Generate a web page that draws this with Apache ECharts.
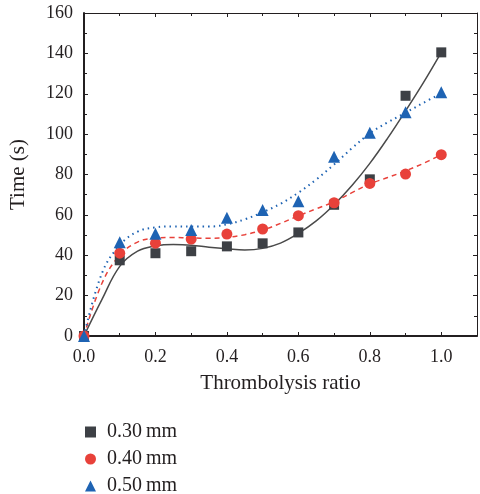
<!DOCTYPE html>
<html>
<head>
<meta charset="utf-8">
<script src="https://cdn.jsdelivr.net/npm/echarts@6/dist/echarts.min.js"></script>
<style>html,body{margin:0;padding:0;background:#fff}#c{width:480px;height:494px}</style>
</head>
<body>
<div id="c"></div>
<script>
var seriesNames = ['0.30\u2009mm', '0.40\u2009mm', '0.50\u2009mm'];
var xValues = [0, 0.1, 0.2, 0.3, 0.4, 0.5, 0.6, 0.7, 0.8, 0.9, 1.0];
var y030 = [0, 37.5, 41, 42, 44.4, 45.9, 51.3, 65, 77.6, 119, 140.5];
var y040 = [0, 41, 46, 48, 50.5, 53, 59.6, 66, 75.6, 80.2, 89.8];
var y050 = [0, 46.5, 50.7, 52.5, 58.6, 62.4, 66.7, 88.8, 100.7, 110.8, 120.7];

var fitX = [0, 0.05, 0.1, 0.15, 0.2, 0.25, 0.3, 0.35, 0.4, 0.45, 0.5, 0.55, 0.6, 0.65, 0.7, 0.75, 0.8, 0.85, 0.9, 0.95, 1.0];
var fit030 = [0, 18, 34.5, 42, 44.6, 45.3, 45, 44, 43.2, 42.6, 43.4, 46, 50.8, 57, 65, 74.5, 85.5, 98, 111.5, 125.5, 140.5];
var fit040 = [0, 26, 40, 46.5, 48.5, 48.8, 48.6, 48.4, 48.8, 50.2, 52.5, 55.8, 59.5, 63, 66.5, 71, 75.3, 78.5, 81.8, 85.5, 89.8];
var fit050 = [0, 31, 45, 51.7, 53.8, 54.3, 54.2, 54.2, 55.3, 57.8, 61.3, 65.5, 71, 77.5, 85, 93, 100.4, 105.8, 110.6, 115.5, 120.2];

var xTickLabels = ['0.0', '0.2', '0.4', '0.6', '0.8', '1.0'];

function pairs(xs, ys) { return xs.map(function (x, i) { return [x, ys[i]]; }); }

var colors = ['#3d4045', '#e8413a', '#1e63b3'];
var font = 'Liberation Serif';
var txt = '#231f20';

var chart = echarts.init(document.getElementById('c'), null, { renderer: 'canvas' });

var baseX = {
  type: 'value', min: 0, max: 1.1, interval: 0.2,
  splitLine: { show: false },
  minorTick: { show: true, splitNumber: 2, length: 3, lineStyle: { color: '#231f20', width: 1 } },
  axisTick: { show: true, inside: true, length: 4, lineStyle: { color: '#231f20', width: 1 } }
};
var baseY = {
  type: 'value', min: 0, max: 160, interval: 20,
  splitLine: { show: false },
  minorTick: { show: true, splitNumber: 2, length: 3, lineStyle: { color: '#231f20', width: 1 } },
  axisTick: { show: true, inside: true, length: 4, lineStyle: { color: '#231f20', width: 1 } }
};

var option = {
  animation: false,
  backgroundColor: '#fff',
  grid: { left: 83, top: 13, width: 398, height: 323, containLabel: false },
  legend: {
    orient: 'vertical', left: 85, top: 422, itemGap: 7, itemWidth: 11, itemHeight: 11,
    padding: 0, height: 80,
    data: [
      { name: seriesNames[0], icon: 'rect' },
      { name: seriesNames[1], icon: 'circle' },
      { name: seriesNames[2], icon: 'triangle' }
    ],
    textStyle: { fontFamily: font, fontSize: 20, color: txt, padding: [0, 0, 0, 6] }
  },
  xAxis: [
    Object.assign({}, baseX, {
      position: 'bottom',
      name: 'Thrombolysis ratio', nameLocation: 'middle', nameGap: 37,
      nameTextStyle: { fontFamily: font, fontSize: 21, color: txt },
      axisLine: { show: true, onZero: false, lineStyle: { color: '#231f20', width: 2 } },
      axisLabel: {
        fontFamily: font, fontSize: 18, color: txt, margin: 12,
        formatter: function (v) {
          var idx = Math.round(v / 0.2);
          if (v > 1.05 || Math.abs(v - idx * 0.2) > 1e-6) return '';
          return xTickLabels[idx];
        }
      }
    }),
    Object.assign({}, baseX, {
      position: 'top',
      axisLine: { show: true, onZero: false, lineStyle: { color: '#231f20', width: 1 } },
      axisLabel: { show: false }
    })
  ],
  yAxis: [
    Object.assign({}, baseY, {
      position: 'left',
      name: 'Time (s)', nameLocation: 'middle', nameGap: 55,
      nameTextStyle: { fontFamily: font, fontSize: 21, color: txt },
      axisLine: { show: true, onZero: false, lineStyle: { color: '#231f20', width: 2 } },
      axisLabel: { fontFamily: font, fontSize: 18, color: txt, margin: 11 }
    }),
    Object.assign({}, baseY, {
      position: 'right',
      axisLine: { show: true, onZero: false, lineStyle: { color: '#231f20', width: 1 } },
      axisLabel: { show: false }
    })
  ],
  series: [
    { name: 'fit030', type: 'line', data: pairs(fitX, fit030), smooth: 0.4, showSymbol: false, symbol: 'none',
      lineStyle: { color: '#4a4a4a', width: 1.5, type: 'solid' }, z: 2, silent: true },
    { name: 'fit040', type: 'line', data: pairs(fitX, fit040), smooth: 0.4, showSymbol: false, symbol: 'none',
      lineStyle: { color: colors[1], width: 1.5, type: [5, 4] }, z: 2, silent: true },
    { name: 'fit050', type: 'line', data: pairs(fitX, fit050), smooth: 0.4, showSymbol: false, symbol: 'none',
      lineStyle: { color: colors[2], width: 2, type: [1.5, 4] }, z: 2, silent: true },
    { name: seriesNames[0], type: 'scatter', data: pairs(xValues, y030), symbol: 'rect', symbolSize: 10,
      itemStyle: { color: colors[0], opacity: 1 }, z: 3 },
    { name: seriesNames[1], type: 'scatter', data: pairs(xValues, y040), symbol: 'circle', symbolSize: 11,
      itemStyle: { color: colors[1], opacity: 1 }, z: 4 },
    { name: seriesNames[2], type: 'scatter', data: pairs(xValues, y050), symbol: 'triangle', symbolSize: 12,
      itemStyle: { color: colors[2], opacity: 1 }, z: 5 }
  ]
};
chart.setOption(option);
</script>
</body>
</html>
